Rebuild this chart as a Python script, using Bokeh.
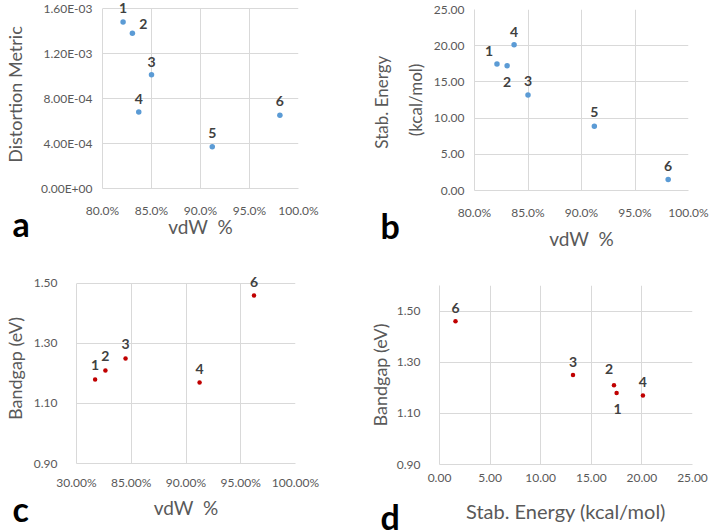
from bokeh.plotting import figure
from bokeh.models import Range1d, FixedTicker, Label, LabelSet, ColumnDataSource
from bokeh.core.properties import value
from bokeh.embed import file_html
from bokeh.resources import INLINE

# ---------------- data ----------------
# panels a and b: structures 1-6
ab_ids = ["1", "2", "3", "4", "5", "6"]
ab_vdw = [82.1, 83.05, 85.0, 83.7, 91.2, 98.1]          # vdW %
a_distortion = [1.48e-3, 1.38e-3, 1.01e-3, 6.8e-4, 3.7e-4, 6.5e-4]
b_stab_energy = [17.46, 17.23, 13.19, 20.13, 8.87, 1.52]  # kcal/mol

# panel c
c_ids = ["1", "2", "3", "4", "6"]
c_vdw = [81.7, 82.64, 84.48, 91.24, 96.21]
c_bandgap = [1.18, 1.21, 1.25, 1.17, 1.46]

# panel d
d_ids = ["6", "3", "2", "1", "4"]
d_stab_energy = [1.58, 13.19, 17.24, 17.5, 20.1]
d_bandgap = [1.46, 1.25, 1.21, 1.18, 1.17]

# ticks and tick labels
vdw_ticks = [80, 85, 90, 95, 100]
ab_vdw_labels = ["80.0%", "85.0%", "90.0%", "95.0%", "100.0%"]
c_vdw_labels = ["30.00%", "85.00%", "90.00%", "95.00%", "100.00%"]
a_yticks = [0.0, 4e-4, 8e-4, 1.2e-3, 1.6e-3]
a_ylabels = ["0.00E+00", "4.00E-04", "8.00E-04", "1.20E-03", "1.60E-03"]
b_yticks = [0, 5, 10, 15, 20, 25]
b_ylabels = ["0.00", "5.00", "10.00", "15.00", "20.00", "25.00"]
bg_ticks = [0.9, 1.1, 1.3, 1.5]
bg_labels = ["0.90", "1.10", "1.30", "1.50"]
d_xticks = [0, 5, 10, 15, 20, 25]
d_xlabels = ["0.00", "5.00", "10.00", "15.00", "20.00", "25.00"]

# ---------------- style ----------------
FONT = "Lato"
TICK_COL = "#595959"
GRID_COL = "#d9d9d9"
LBL_COL = "#404040"
BLUE = "#5b9bd5"
RED = "#c00000"
VDW_TITLE = "vdW\u00a0\u00a0%"


def panel(x, y, ids, dx, dy, xr, yr, xticks, xlabels, yticks, ylabels,
          xtitle, ytitle, color, size, borders, xstand, ystand,
          xtitle_size, ytitle_size, letter, letter_pos, ylab_stand=6, xlab_stand=6,
          ytitle_lh=1.2, y_extra=0.0):
    l, r, t, b = borders
    p = figure(width=357, height=265, output_backend="svg", toolbar_location=None,
               x_range=Range1d(*xr), y_range=Range1d(yr[0], yr[1] + y_extra),
               min_border_left=l, min_border_right=r, min_border_top=t, min_border_bottom=b)
    p.outline_line_color = None
    p.background_fill_color = "white"
    p.border_fill_color = "white"
    for ax, ticks, labels, stand in ((p.xaxis[0], xticks, xlabels, xstand),
                                      (p.yaxis[0], yticks, ylabels, ystand)):
        ax.ticker = FixedTicker(ticks=ticks)
        ax.major_label_overrides = {tk: lb for tk, lb in zip(ticks, labels)}
        ax.major_tick_line_color = None
        ax.minor_tick_line_color = None
        ax.axis_line_color = GRID_COL
        ax.major_label_text_font = FONT
        ax.major_label_text_font_size = "12px"
        ax.major_label_text_color = TICK_COL
        ax.major_label_standoff = stand
        ax.axis_label_text_font = FONT
        ax.axis_label_text_font_style = "normal"
        ax.axis_label_text_color = TICK_COL
    p.yaxis.bounds = (yr[0], yr[1])
    p.xaxis.axis_label = xtitle
    p.yaxis.axis_label = ytitle
    p.xaxis.axis_label_text_font_size = xtitle_size
    p.yaxis.axis_label_text_font_size = ytitle_size
    p.xaxis.axis_label_standoff = xlab_stand
    p.yaxis.axis_label_standoff = ylab_stand
    p.yaxis.axis_label_text_line_height = ytitle_lh
    p.xgrid.grid_line_color = GRID_COL
    p.ygrid.grid_line_color = GRID_COL
    p.xgrid.ticker = FixedTicker(ticks=xticks)
    p.ygrid.ticker = FixedTicker(ticks=yticks)
    if y_extra and "cross_bounds" in p.xgrid[0].properties():
        p.xgrid.cross_bounds = (yr[0], yr[1])

    src = ColumnDataSource(dict(x=x, y=y, t=ids, dx=dx, dy=[-v for v in dy]))
    p.scatter("x", "y", source=src, size=size, color=color, line_color=None)
    p.add_layout(LabelSet(x="x", y="y", text="t", x_offset="dx", y_offset="dy", source=src,
                          text_align="center", text_baseline="middle", text_font_size="14px",
                          text_font_style="bold", text_color=LBL_COL, text_font=value(FONT)))
    p.add_layout(Label(x=letter_pos[0], y=letter_pos[1], x_units="screen", y_units="screen",
                       text=letter, text_font=FONT, text_font_size="34px",
                       text_font_style="bold", text_color="black",
                       text_baseline="alphabetic", text_align="left"), "right")
    return p


# letter positions: relative to the right side panel (left edge = frame right, bottom = frame bottom)
pa = panel(ab_vdw, a_distortion, ab_ids,
           [0, 11, 0, 0, 0, 0], [-14, -9, -13, -13, -14, -14],
           (80, 100), (0, 1.6e-3), vdw_ticks, ab_vdw_labels, a_yticks, a_ylabels,
           VDW_TITLE, "Distortion Metric", BLUE, 5.5, (90, 59, 0, 77), 8, 4,
           "19px", "18px", "a", (-286, -35), ylab_stand=12, xlab_stand=-6, y_extra=7.11e-5)

pb = panel(ab_vdw, b_stab_energy, ab_ids,
           [-8, 0, 0, 0, 0, 0], [-13, 16, -14, -13, -14, -13],
           (80, 100), (0, 25), vdw_ticks, ab_vdw_labels, b_yticks, b_ylabels,
           VDW_TITLE, "Stab.  Energy\n(kcal/mol)", BLUE, 5.5, (117, 26, 9, 75), 8, 4,
           "19px", "17px", "b", (-308, -35), ylab_stand=5, xlab_stand=4, ytitle_lh=1.6)

pc = panel(c_vdw, c_bandgap, c_ids,
           [0, 0, 0, 0, 0], [-14, -14, -14, -13, -13],
           (80, 100), (0.9, 1.5), vdw_ticks, c_vdw_labels, bg_ticks, bg_labels,
           VDW_TITLE, "Bandgap (eV)", RED, 4.5, (63, 62, 8, 67), 5, 13,
           "19px", "18px", "c", (-283, -45), ylab_stand=5, xlab_stand=3, y_extra=0.0333)

pd = panel(d_stab_energy, d_bandgap, d_ids,
           [0, 0, -5, 1, 0], [-13, -13, -16, 16, -13],
           (0, 25), (0.9, 1.6), d_xticks, d_xlabels, bg_ticks, bg_labels,
           "Stab. Energy (kcal/mol)", "Bandgap (eV)", RED, 4.5, (82, 22, 20, 66), 3, 13,
           "20px", "18px", "d", (-312, -52), ylab_stand=3, xlab_stand=14)

# four independent roots laid out 2 x 2 by the page grid (no frame alignment between panels)
html = file_html([pa, pb, pc, pd], INLINE)
html = html.replace("</head>",
                    "<style>body{margin:0;display:grid;grid-template-columns:357px 357px;"
                    "grid-auto-rows:265px;}</style></head>", 1)
open("out.html", "w").write(html)
